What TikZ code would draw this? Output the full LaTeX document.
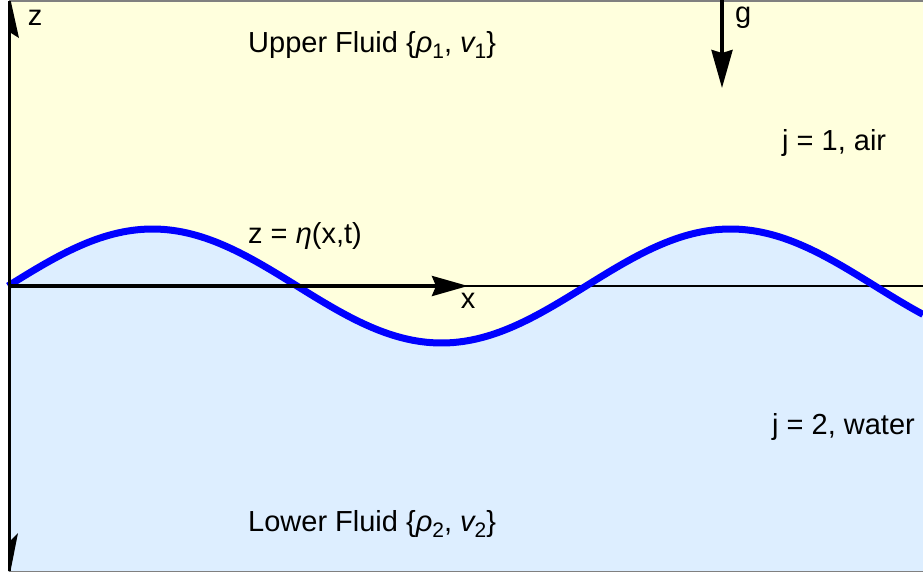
\documentclass[tikz,border=0pt]{standalone}
\usepackage{fontspec}
\setmainfont{Liberation Sans}
\usetikzlibrary{arrows.meta}
\definecolor{upperc}{RGB}{255,255,221}
\definecolor{lowerc}{RGB}{221,238,255}
\definecolor{wavec}{RGB}{0,0,255}
\newcommand{\sbs}[1]{\raisebox{-0.22em}{\fontsize{21}{24}\selectfont #1}}
\begin{document}
\begin{tikzpicture}[x=1pt,y=-1pt,
  lbl/.style={font=\fontsize{29}{33}\selectfont, inner sep=0pt, anchor=west},
  axis/.style={line width=3.5pt}]
\useasboundingbox (0,0) rectangle (923,573);
\fill[white] (0,0) rectangle (923,573);
\fill[upperc] (9,1) rectangle (923,571);
\fill[lowerc] plot[domain=8:923, samples=200] (\x, {286-57*sin(0.622837*(\x-8))}) -- (923,571) -- (8,571) -- cycle;
\draw[gray, line width=1.5pt] (9,1) -- (923,1);
\draw[gray, line width=1.5pt] (9,571.5) -- (923,571.5);
\coordinate (o) at (9,286);
\coordinate (xe) at (923,286);
\coordinate (xt) at (468,286);
\draw[line width=1.2pt] (o) -- (xe);
\draw[wavec, line width=7pt] plot[domain=8:923, samples=200] (\x, {286-57*sin(0.622837*(\x-8))});
\draw[axis, -{Stealth[length=36pt,width=20pt,inset=4pt]}] (o) -- (xt);
\coordinate (gs) at (722,0);
\coordinate (ge) at (722,88);
\draw[axis, -{Stealth[length=38pt,width=21pt,inset=3pt]}] (gs) -- (ge);
\coordinate (zt) at (9.5,1);
\coordinate (zb) at (9.5,571);
\draw[line width=3pt] (zt) -- (zb);
\fill (8,2) -- (11,2) -- (19,38) -- (11,33) -- cycle;
\fill (8,571) -- (10.5,571) -- (18,533) -- (11,540) -- cycle;
\node[lbl] (up) at (248,45) {Upper Fluid \{{\itshape ρ}\sbs{1}, {\itshape v}\sbs{1}\}};
\node[lbl] (lo) at (248,524) {Lower Fluid \{{\itshape ρ}\sbs{2}, {\itshape v}\sbs{2}\}};
\node[lbl] (eta) at (248,236) {z = {\itshape η}(x,t)};
\node[lbl] (j1) at (782,143) {j = 1, air};
\node[lbl] (j2) at (772,427) {j = 2, water};
\node[lbl] (gl) at (735,18) {g};
\node[lbl, anchor=center] (xl) at (468,301) {x};
\node[lbl, anchor=center] (zl) at (35,18) {z};
\end{tikzpicture}
\end{document}
